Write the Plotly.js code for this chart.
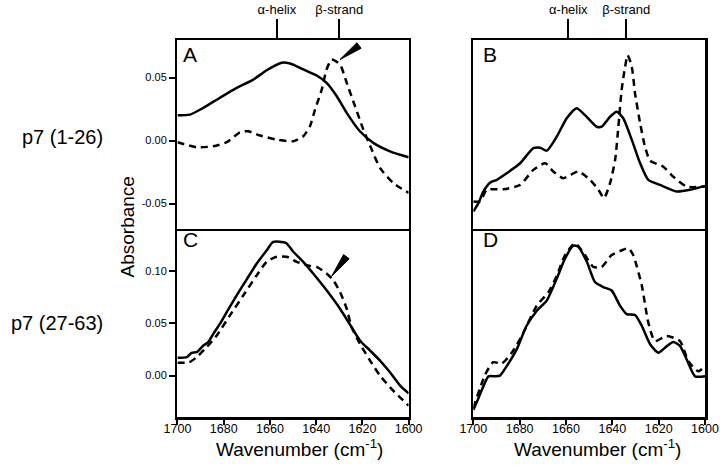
<!DOCTYPE html>
<html>
<head>
<meta charset="utf-8">
<script src="https://cdn.plot.ly/plotly-3.0.1.min.js"></script>
<style>html,body{margin:0;padding:0;background:#fff;}#chart{width:720px;height:468px;}</style>
</head>
<body>
<div id="chart"></div>
<script>
// ---- Panel A : p7 (1-26), absorbance ----
const aSolidX = [1700,1694.6,1688.8,1681.6,1674.4,1667.2,1661.4,1654.9,1651.3,1645.6,1639.8,1635.5,1631.1,1626.8,1621.1,1615.3,1608.1,1600];
const aSolidY = [0.020,0.0206,0.026,0.034,0.0418,0.0484,0.0558,0.0617,0.0611,0.0564,0.0516,0.0458,0.0352,0.022,0.0074,-0.0018,-0.0085,-0.0132];
const aDashX = [1700,1691.7,1684.5,1678.7,1673,1669.4,1664.3,1657.1,1649.9,1645.6,1642.7,1640.5,1637.6,1635.5,1633.3,1629.7,1626.8,1623.2,1619.6,1616,1612.4,1606.7,1600];
const aDashY = [-0.0013,-0.0053,-0.0045,-0.0013,0.0066,0.0074,0.004,0.0008,-0.0005,0.0034,0.0114,0.0246,0.0405,0.0564,0.0643,0.0603,0.0458,0.0272,0.0087,-0.0071,-0.0217,-0.0336,-0.0415];

// ---- Panel B : p7 (1-26), second spectrum (relative units) ----
const bSolidX = [1700,1697.8,1695.7,1692.8,1689.9,1685.6,1679.8,1674.1,1671.2,1668.3,1664,1659.7,1655.4,1651.8,1646.7,1644.6,1641,1638.1,1635.3,1631.6,1628,1624.5,1619.4,1612.2,1606.5,1600];
const bSolidY = [0.092,0.136,0.198,0.245,0.26,0.295,0.348,0.428,0.431,0.415,0.489,0.587,0.64,0.604,0.542,0.542,0.595,0.622,0.587,0.472,0.348,0.26,0.233,0.198,0.207,0.228];
const bDashX = [1700,1697.1,1694.2,1687,1679.8,1674.1,1669,1665.5,1661.2,1654.7,1649.6,1646,1643.6,1641,1638.8,1637.4,1636,1634.5,1633.4,1631.6,1630.2,1628,1625.9,1623.7,1618,1613.7,1607.9,1600];
const bDashY = [0.145,0.145,0.207,0.21,0.233,0.313,0.348,0.304,0.269,0.304,0.26,0.207,0.163,0.242,0.366,0.542,0.737,0.86,0.922,0.86,0.719,0.56,0.436,0.362,0.33,0.277,0.224,0.224];

// ---- Panel C : p7 (27-63), absorbance ----
const cSolidX = [1700,1696,1693.9,1691.7,1688.8,1686.7,1684.5,1681.6,1678.7,1674.4,1670.1,1665.7,1661.4,1658.6,1653.1,1649.9,1645.6,1641.3,1635.5,1629.7,1624.7,1621.1,1616.7,1612.4,1608.1,1603.7,1600];
const cSolidY = [0.017,0.0176,0.0218,0.0224,0.0288,0.032,0.040,0.0497,0.0609,0.0769,0.092,0.1074,0.120,0.128,0.1272,0.1186,0.109,0.0978,0.0817,0.0641,0.0465,0.0337,0.024,0.0144,0.0032,-0.0096,-0.017];
const cDashX = [1700,1694.9,1691.7,1687.4,1683,1677.3,1671.5,1665.7,1661.4,1657.1,1652.8,1648.4,1642.7,1639.8,1635.5,1632.6,1629.7,1626.8,1624.7,1621.1,1616.7,1612.4,1606.7,1600];
const cDashY = [0.0122,0.0128,0.0176,0.0272,0.0385,0.0577,0.0769,0.0962,0.109,0.1138,0.1138,0.109,0.1051,0.1042,0.0978,0.0913,0.0801,0.0641,0.0465,0.0305,0.0144,0,-0.0144,-0.0288];

// ---- Panel D : p7 (27-63), second spectrum (relative units) ----
const dSolidX = [1700,1697.8,1695.7,1693.5,1690.6,1688.5,1685.6,1681.3,1677,1672.6,1668.3,1664,1660.4,1656.8,1654.7,1651,1647.5,1643.9,1640.3,1636.7,1633.8,1630.2,1627.3,1623.7,1620.1,1617.3,1613.7,1610.8,1607.9,1604.3,1600];
const dSolidY = [0.04,0.102,0.164,0.218,0.218,0.222,0.272,0.361,0.486,0.566,0.62,0.736,0.843,0.911,0.905,0.825,0.718,0.691,0.673,0.593,0.548,0.543,0.486,0.388,0.343,0.37,0.4,0.379,0.307,0.218,0.218];
const dDashX = [1700,1694.9,1691.4,1687.7,1683.4,1679.1,1672.6,1667.6,1664,1660.4,1656.1,1651.8,1648.2,1644.6,1640.3,1636.7,1633.1,1631,1627.3,1624.5,1621.6,1616.5,1610.8,1607.2,1602.9,1600];
const dDashY = [0.05,0.227,0.293,0.286,0.343,0.432,0.593,0.664,0.75,0.861,0.923,0.861,0.798,0.798,0.861,0.882,0.897,0.861,0.7,0.504,0.405,0.432,0.405,0.298,0.245,0.272];

// ---- Tick labels / annotations ----
const topLabels = ['\u03b1-helix','\u03b2-strand'];
const topTicksA = [1657,1630];
const topTicksB = [1659,1634];
const wnTicks = [1700,1680,1660,1640,1620,1600];
const yTicksA = [-0.05,0,0.05];
const yLabelsA = ['-0.05','0.00','0.05'];
const yTicksC = [0,0.05,0.10];
const yLabelsC = ['0.00','0.05','0.10'];
const rowLabels = ['p7 (1-26)','p7 (27-63)'];
const panelLetters = ['A','B','C','D'];
const arrowTipX = [1629.7,1633.3];
const arrowTipY = [0.0643,0.0952];

const FONT = 'Liberation Sans, Arial, Helvetica, sans-serif';
const LW = 2.5;
function solid(x,y,xa,ya){return {x:x,y:y,xaxis:xa,yaxis:ya,type:'scatter',mode:'lines',line:{color:'#000',width:LW,shape:'spline',smoothing:0.6},hoverinfo:'skip'};}
function dashed(x,y,xa,ya){return {x:x,y:y,xaxis:xa,yaxis:ya,type:'scatter',mode:'lines',line:{color:'#000',width:LW,dash:'7px,5px',shape:'spline',smoothing:0.6},hoverinfo:'skip'};}

const data = [
  solid(aSolidX,aSolidY,'x','y'), dashed(aDashX,aDashY,'x','y'),
  solid(bSolidX,bSolidY,'x2','y2'), dashed(bDashX,bDashY,'x2','y2'),
  solid(cSolidX,cSolidY,'x3','y3'), dashed(cDashX,cDashY,'x3','y3'),
  solid(dSolidX,dSolidY,'x4','y4'), dashed(dDashX,dDashY,'x4','y4')
];

const colL = [0.2465,0.5676], colR = [0.6574,0.9792];
const rowT = [0.5111,0.9135], rowB = [0.1080,0.5111];
const frame = {showline:true,linewidth:LW,linecolor:'#000',mirror:true,showgrid:false,zeroline:false,fixedrange:true};

function topX(domain,anchor,vals){return Object.assign({},frame,{domain:domain,anchor:anchor,range:[1700,1600],side:'top',tickmode:'array',tickvals:vals,ticktext:topLabels,ticks:'outside',ticklen:19,tickwidth:2,tickcolor:'#000',tickfont:{size:13,family:FONT,color:'#000'}});}
function botX(domain,anchor){return Object.assign({},frame,{domain:domain,anchor:anchor,mirror:false,range:[1700,1600],tickmode:'array',tickvals:wnTicks,ticktext:wnTicks.map(String),ticks:'outside',ticklen:5,tickwidth:2,tickcolor:'#000',ticklabelstandoff:-7,tickfont:{size:12.5,family:FONT,color:'#000'}});}
function leftY(domain,anchor,range,vals,labels){return Object.assign({},frame,{domain:domain,anchor:anchor,range:range,tickmode:'array',tickvals:vals,ticktext:labels,ticks:'outside',ticklen:6,tickwidth:2,tickcolor:'#000',tickfont:{size:11,family:FONT,color:'#000'}});}
function bareY(domain,anchor){return Object.assign({},frame,{domain:domain,anchor:anchor,range:[0,1],ticks:'',showticklabels:false});}

const annotations = [
  {text:rowLabels[0],xref:'paper',yref:'paper',x:0.1458,y:0.708,xanchor:'right',yanchor:'middle',showarrow:false,font:{size:20,family:FONT,color:'#000'}},
  {text:rowLabels[1],xref:'paper',yref:'paper',x:0.1458,y:0.309,xanchor:'right',yanchor:'middle',showarrow:false,font:{size:20,family:FONT,color:'#000'}},
  {text:'Absorbance',xref:'paper',yref:'paper',x:0.1771,y:0.515,textangle:-90,xanchor:'center',yanchor:'middle',showarrow:false,font:{size:19,family:FONT,color:'#000'}},
  {text:'Wavenumber (cm<sup>-1</sup>)',xref:'paper',yref:'paper',x:0.4153,y:0.0425,xanchor:'center',yanchor:'middle',showarrow:false,font:{size:19,family:FONT,color:'#000'}},
  {text:'Wavenumber (cm<sup>-1</sup>)',xref:'paper',yref:'paper',x:0.8299,y:0.0425,xanchor:'center',yanchor:'middle',showarrow:false,font:{size:19,family:FONT,color:'#000'}},
  {text:panelLetters[0],xref:'paper',yref:'paper',x:190/720,y:1-54/468,xanchor:'center',yanchor:'middle',showarrow:false,font:{size:21,family:FONT,color:'#000'}},
  {text:panelLetters[1],xref:'paper',yref:'paper',x:490/720,y:1-54.5/468,xanchor:'center',yanchor:'middle',showarrow:false,font:{size:21,family:FONT,color:'#000'}},
  {text:panelLetters[2],xref:'paper',yref:'paper',x:190.5/720,y:1-240/468,xanchor:'center',yanchor:'middle',showarrow:false,font:{size:21,family:FONT,color:'#000'}},
  {text:panelLetters[3],xref:'paper',yref:'paper',x:490/720,y:1-240/468,xanchor:'center',yanchor:'middle',showarrow:false,font:{size:21,family:FONT,color:'#000'}}
];

const shapes = [
  {type:'path',xref:'x',yref:'y',xsizemode:'pixel',ysizemode:'pixel',xanchor:arrowTipX[0],yanchor:arrowTipY[0],path:'M0,0 L16.9,16.8 L21.1,11.2 Z',fillcolor:'#000',line:{color:'#000',width:1}},
  {type:'path',xref:'x3',yref:'y3',xsizemode:'pixel',ysizemode:'pixel',xanchor:arrowTipX[1],yanchor:arrowTipY[1],path:'M0,0 L11.9,21.6 L17.5,17.4 Z',fillcolor:'#000',line:{color:'#000',width:1}}
];

const layout = {
  width:720,height:468,margin:{l:0,r:0,t:0,b:0},
  paper_bgcolor:'#fff',plot_bgcolor:'#fff',showlegend:false,
  font:{family:FONT,color:'#000'},
  xaxis:topX(colL,'y',topTicksA),
  yaxis:leftY(rowT,'x',[-0.070,0.0794],yTicksA,yLabelsA),
  xaxis2:topX(colR,'y2',topTicksB),
  yaxis2:bareY(rowT,'x2'),
  xaxis3:botX(colL,'y3'),
  yaxis3:leftY(rowB,'x3',[-0.0401,0.1406],yTicksC,yLabelsC),
  xaxis4:botX(colR,'y4'),
  yaxis4:bareY(rowB,'x4'),
  annotations:annotations,
  shapes:shapes
};

Plotly.newPlot('chart',data,layout,{staticPlot:true,displayModeBar:false});
</script>
</body>
</html>
